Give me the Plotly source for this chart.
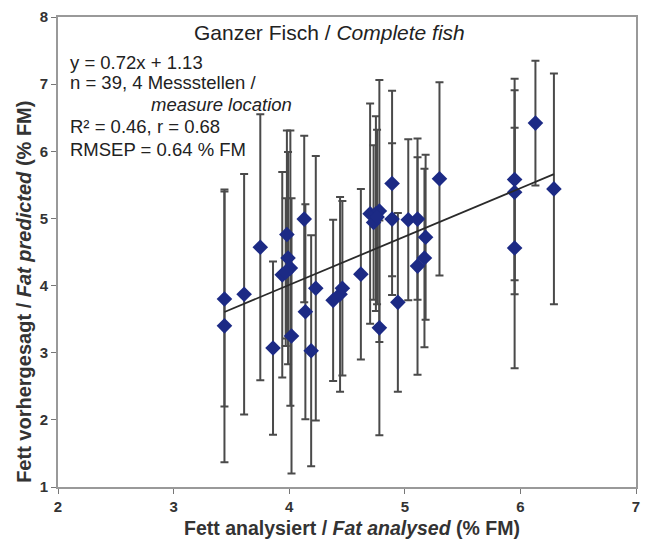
import plotly.graph_objects as go

# Data
fat_analysed = [3.44, 3.44, 3.61, 3.75, 3.86, 3.94, 3.98, 3.99, 4.01, 4.02,
                4.13, 4.14, 4.19, 4.23, 4.38, 4.44, 4.46, 4.62, 4.70, 4.73,
                4.75, 4.78, 4.76, 4.78, 4.89, 4.89, 4.94, 5.03, 5.11, 5.11,
                5.17, 5.18, 5.30, 5.95, 5.95, 5.95, 6.13, 6.29, 3.97]
fat_predicted = [3.80, 3.40, 3.87, 4.57, 3.07, 4.16, 4.76, 4.41, 4.26, 3.25,
                 4.99, 3.61, 3.03, 3.96, 3.78, 3.87, 3.96, 4.17, 5.07, 4.94,
                 5.07, 5.11, 5.02, 3.37, 5.52, 4.99, 3.75, 4.98, 4.99, 4.29,
                 4.41, 4.72, 5.59, 5.58, 5.39, 4.56, 6.42, 5.44, 4.20]
pred_error = [1.60, 2.03, 1.79, 1.98, 1.29, 1.53, 1.55, 1.58, 2.05, 2.05,
              1.24, 1.60, 1.72, 1.97, 1.20, 1.45, 1.30, 1.27, 1.64, 1.15,
              1.45, 1.95, 1.30, 1.60, 1.38, 1.13, 1.33, 1.20, 1.20, 1.62,
              1.33, 1.23, 1.44, 1.50, 1.52, 1.79, 0.93, 1.72, 1.10]

slope = 0.72
intercept = 1.13
x_ticks = [2, 3, 4, 5, 6, 7]
y_ticks = [1, 2, 3, 4, 5, 6, 7, 8]

font_family = "Liberation Sans, Arial, sans-serif"

fig = go.Figure()

fig.add_trace(go.Scatter(
    x=fat_analysed, y=fat_predicted, mode="markers",
    marker=dict(symbol="diamond", size=12, color="#1c2a85"),
    error_y=dict(type="data", array=pred_error, visible=True,
                 color="#4a4a4a", thickness=2, width=4),
    showlegend=False,
))

x_line = [min(fat_analysed), max(fat_analysed)]
y_line = [slope * v + intercept for v in x_line]
fig.add_trace(go.Scatter(
    x=x_line, y=y_line, mode="lines",
    line=dict(color="#2a2a2a", width=1.8), showlegend=False,
))

ann_font = dict(family=font_family, size=18.5, color="#222")
annotations = [
    dict(text="Ganzer Fisch / <i>Complete fish</i>", x=0.47, y=0.968,
         xanchor="center", yanchor="middle", font=dict(family=font_family, size=21, color="#222")),
    dict(text="y = 0.72x + 1.13", x=0.017, y=0.904, xanchor="left", yanchor="middle", font=ann_font),
    dict(text="n = 39, 4 Messstellen /", x=0.017, y=0.860, xanchor="left", yanchor="middle", font=ann_font),
    dict(text="<i>measure location</i>", x=0.157, y=0.813, xanchor="left", yanchor="middle", font=ann_font),
    dict(text="R² = 0.46, r = 0.68", x=0.017, y=0.766, xanchor="left", yanchor="middle", font=ann_font),
    dict(text="RMSEP = 0.64 % FM", x=0.017, y=0.719, xanchor="left", yanchor="middle", font=ann_font),
    dict(text="<b>Fett vorhergesagt / <i>Fat predicted</i> (% FM)</b>", x=-0.059, y=0.415,
         xanchor="center", yanchor="middle", textangle=-90,
         font=dict(family=font_family, size=20, color="#333")),
    dict(text="<b>Fett analysiert / <i>Fat analysed</i> (% FM)</b>", x=0.509, y=-0.087,
         xanchor="center", yanchor="middle",
         font=dict(family=font_family, size=19.5, color="#333")),
]
for a in annotations:
    a.update(xref="paper", yref="paper", showarrow=False)

fig.update_layout(
    width=646, height=540,
    margin=dict(l=58, r=10, t=17, b=53),
    paper_bgcolor="white", plot_bgcolor="white",
    font=dict(family=font_family, color="#333"),
    annotations=annotations,
    xaxis=dict(range=[2, 7], tickvals=x_ticks, showgrid=False, zeroline=False,
               showline=True, linecolor="#999", linewidth=2, mirror=True,
               ticks="outside", ticklen=5, tickcolor="#777", automargin=False,
               tickfont=dict(size=15, color="#333", family=font_family, weight="bold")),
    yaxis=dict(range=[1, 8], tickvals=y_ticks, showgrid=False, zeroline=False,
               showline=True, linecolor="#999", linewidth=2, mirror=True,
               ticks="outside", ticklen=5, tickcolor="#777", automargin=False,
               tickfont=dict(size=15, color="#333", family=font_family, weight="bold")),
)

fig.write_html("out.html", config={"displayModeBar": False},
               post_script="document.body.style.margin='0';document.body.style.overflow='hidden';")
